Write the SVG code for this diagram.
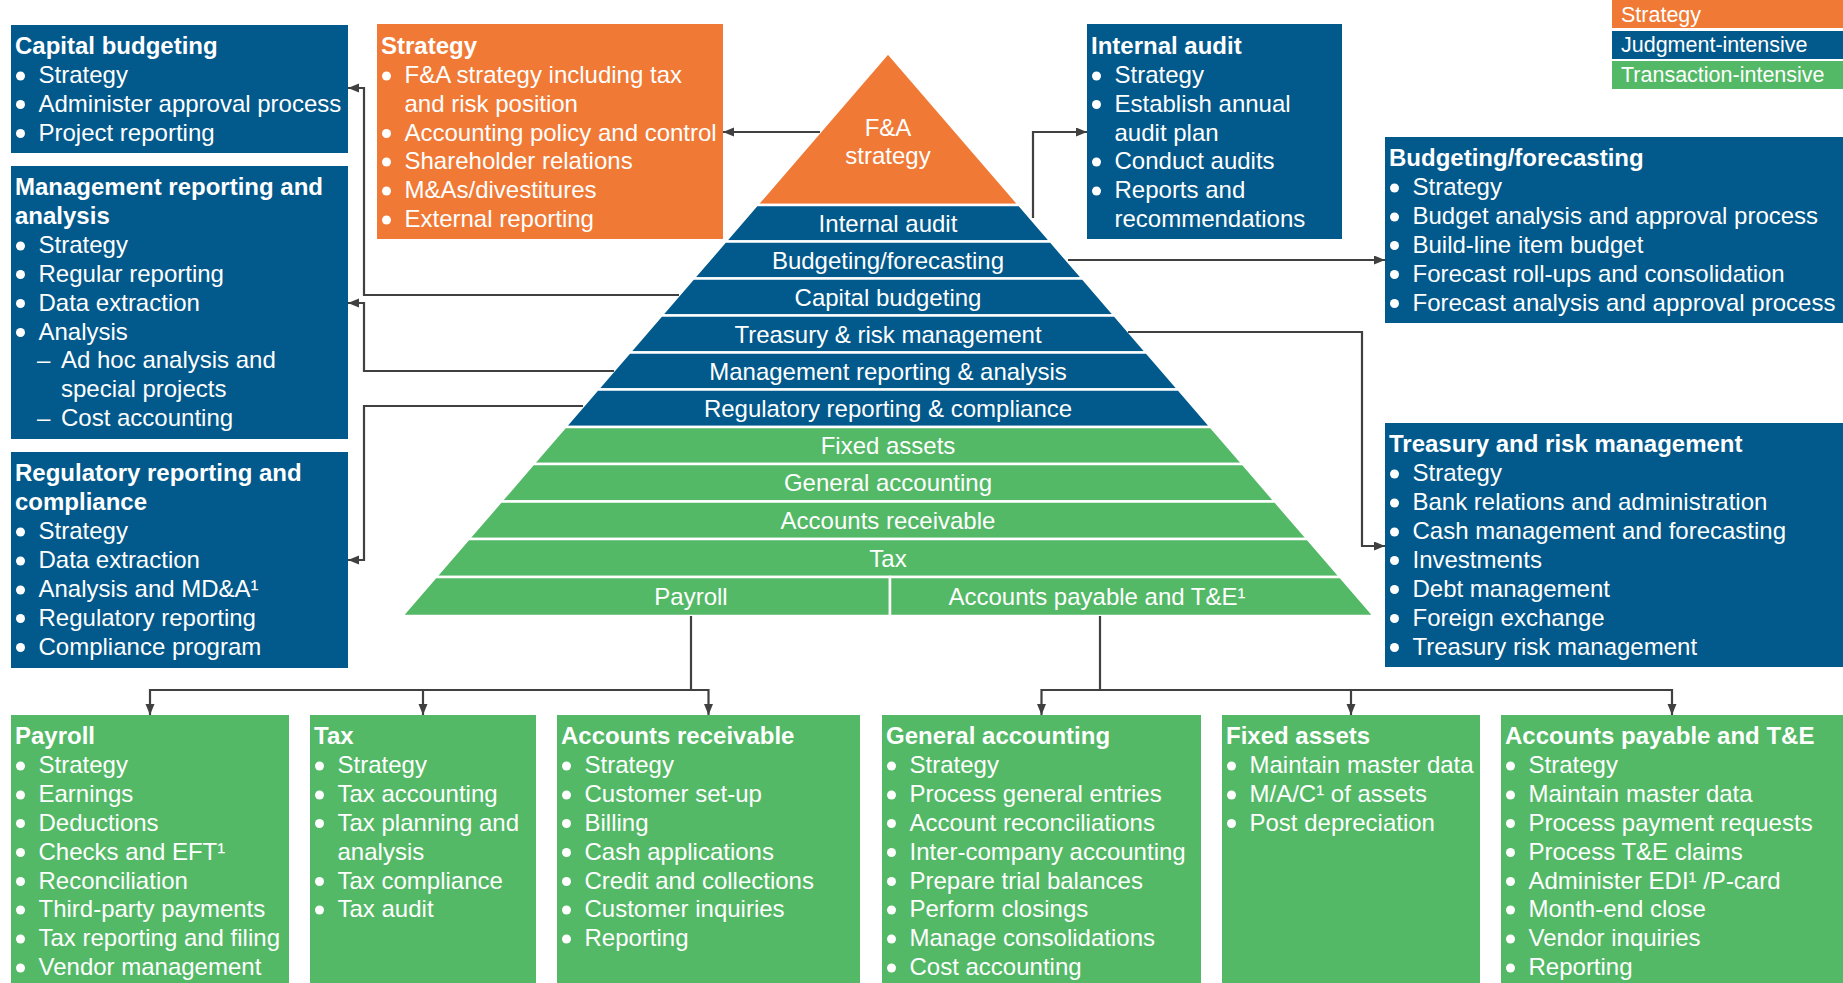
<svg xmlns="http://www.w3.org/2000/svg" width="1843" height="983" viewBox="0 0 1843 983">
<defs>
<marker id="arr" markerUnits="userSpaceOnUse" markerWidth="12" markerHeight="10" refX="11" refY="4.5" orient="auto">
<path d="M0,0 L11,4.5 L0,9 z" fill="#404040"/>
</marker>
</defs>
<style>
.t{font-family:"Liberation Sans",Arial,sans-serif;font-size:24px;fill:#fff}
.tb{font-family:"Liberation Sans",Arial,sans-serif;font-size:24px;font-weight:bold;fill:#fff}
.lg{font-family:"Liberation Sans",Arial,sans-serif;font-size:21.5px;fill:#fff}
.pc{text-anchor:middle}
.bl{fill:#fff}
.or{fill:#F07935}
.bu{fill:#02598B}
.gr{fill:#53B966}
.band{stroke:#fff;stroke-width:2.5}
.cn{fill:none;stroke:#404040;stroke-width:2.2}
.ar{marker-end:url(#arr)}
</style>
<rect width="1843" height="983" fill="#fff"/>

<g id="legend">
<rect class="or" x="1612" y="-2" width="231" height="30"/>
<rect class="bu" x="1612" y="31" width="231" height="28"/>
<rect class="gr" x="1612" y="61" width="231" height="28"/>
<text class="lg" x="1621" y="22">Strategy</text>
<text class="lg" x="1621" y="52">Judgment-intensive</text>
<text class="lg" x="1621" y="82">Transaction-intensive</text>
</g>

<g id="pyramid">
<polygon class="or band" points="888,53 1019.2,205 756.8,205"/>
<polygon class="bu band" points="756.8,205 1019.2,205 1050.7,241.5 725.3,241.5"/>
<polygon class="bu band" points="725.3,241.5 1050.7,241.5 1082.7,278.5 693.3,278.5"/>
<polygon class="bu band" points="693.3,278.5 1082.7,278.5 1114.6,315.5 661.4,315.5"/>
<polygon class="bu band" points="661.4,315.5 1114.6,315.5 1146.5,352.5 629.5,352.5"/>
<polygon class="bu band" points="629.5,352.5 1146.5,352.5 1178.5,389.5 597.5,389.5"/>
<polygon class="bu band" points="597.5,389.5 1178.5,389.5 1210.8,427 565.2,427"/>
<polygon class="gr band" points="565.2,427 1210.8,427 1242.8,464 533.2,464"/>
<polygon class="gr band" points="533.2,464 1242.8,464 1275.1,501.5 500.9,501.5"/>
<polygon class="gr band" points="500.9,501.5 1275.1,501.5 1307.5,539 468.5,539"/>
<polygon class="gr band" points="468.5,539 1307.5,539 1340.3,577 435.7,577"/>
<polygon class="gr band" points="435.7,577 890,577 890,616 402,616"/>
<polygon class="gr band" points="890,577 1340.3,577 1374,616 890,616"/>
<text class="t pc" x="888" y="136">F&amp;A</text>
<text class="t pc" x="888" y="164">strategy</text>
<text class="t pc" x="888" y="231.5">Internal audit</text>
<text class="t pc" x="888" y="268.5">Budgeting/forecasting</text>
<text class="t pc" x="888" y="305.5">Capital budgeting</text>
<text class="t pc" x="888" y="342.5">Treasury &amp; risk management</text>
<text class="t pc" x="888" y="379.5">Management reporting &amp; analysis</text>
<text class="t pc" x="888" y="416.5">Regulatory reporting &amp; compliance</text>
<text class="t pc" x="888" y="454">Fixed assets</text>
<text class="t pc" x="888" y="491">General accounting</text>
<text class="t pc" x="888" y="528.5">Accounts receivable</text>
<text class="t pc" x="888" y="566.5">Tax</text>
<text class="t pc" x="691" y="605">Payroll</text>
<text class="t pc" x="1097" y="605">Accounts payable and T&amp;E¹</text>
</g>

<g id="connectors">
<path class="cn ar" d="M820,132 H723"/>
<path class="cn ar" d="M679,295 H364 V88 H348"/>
<path class="cn ar" d="M614,371 H364 V303 H348"/>
<path class="cn ar" d="M583,406 H364 V560 H348"/>
<path class="cn ar" d="M1033,218 V132 H1087"/>
<path class="cn ar" d="M1068,260 H1385"/>
<path class="cn ar" d="M1128,332 H1362 V546 H1385"/>
<path class="cn ar" d="M691,616 V690 H150 V715"/>
<path class="cn ar" d="M691,690 H423 V715"/>
<path class="cn ar" d="M691,690 H708.5 V715"/>
<path class="cn ar" d="M1100,616 V690 H1041.5 V715"/>
<path class="cn ar" d="M1100,690 H1351 V715"/>
<path class="cn ar" d="M1100,690 H1672 V715"/>
</g>

<g id="capital-budgeting">
<rect class="bu" x="11" y="25" width="337" height="128"/>
<text class="tb" x="15" y="54">Capital budgeting</text>
<circle class="bl" cx="20.5" cy="76" r="4.5"/><text class="t" x="38.5" y="83">Strategy</text>
<circle class="bl" cx="20.5" cy="104.5" r="4.5"/><text class="t" x="38.5" y="111.5">Administer approval process</text>
<circle class="bl" cx="20.5" cy="133.5" r="4.5"/><text class="t" x="38.5" y="140.5">Project reporting</text>
</g>

<g id="strategy">
<rect class="or" x="377" y="24" width="346" height="215"/>
<text class="tb" x="381" y="54">Strategy</text>
<circle class="bl" cx="386.5" cy="76" r="4.5"/><text class="t" x="404.5" y="83">F&amp;A strategy including tax</text>
<text class="t" x="404.5" y="111.5">and risk position</text>
<circle class="bl" cx="386.5" cy="133.5" r="4.5"/><text class="t" x="404.5" y="140.5">Accounting policy and control</text>
<circle class="bl" cx="386.5" cy="162" r="4.5"/><text class="t" x="404.5" y="169">Shareholder relations</text>
<circle class="bl" cx="386.5" cy="191" r="4.5"/><text class="t" x="404.5" y="198">M&amp;As/divestitures</text>
<circle class="bl" cx="386.5" cy="220" r="4.5"/><text class="t" x="404.5" y="227">External reporting</text>
</g>

<g id="internal-audit">
<rect class="bu" x="1087" y="24" width="255" height="215"/>
<text class="tb" x="1091" y="54">Internal audit</text>
<circle class="bl" cx="1096.5" cy="76" r="4.5"/><text class="t" x="1114.5" y="83">Strategy</text>
<circle class="bl" cx="1096.5" cy="104.5" r="4.5"/><text class="t" x="1114.5" y="111.5">Establish annual</text>
<text class="t" x="1114.5" y="140.5">audit plan</text>
<circle class="bl" cx="1096.5" cy="162" r="4.5"/><text class="t" x="1114.5" y="169">Conduct audits</text>
<circle class="bl" cx="1096.5" cy="191" r="4.5"/><text class="t" x="1114.5" y="198">Reports and</text>
<text class="t" x="1114.5" y="227">recommendations</text>
</g>

<g id="management-reporting">
<rect class="bu" x="11" y="166" width="337" height="273"/>
<text class="tb" x="15" y="195">Management reporting and</text>
<text class="tb" x="15" y="224">analysis</text>
<circle class="bl" cx="20.5" cy="246" r="4.5"/><text class="t" x="38.5" y="253">Strategy</text>
<circle class="bl" cx="20.5" cy="274.5" r="4.5"/><text class="t" x="38.5" y="281.5">Regular reporting</text>
<circle class="bl" cx="20.5" cy="303.5" r="4.5"/><text class="t" x="38.5" y="310.5">Data extraction</text>
<circle class="bl" cx="20.5" cy="332.5" r="4.5"/><text class="t" x="38.5" y="339.5">Analysis</text>
<text class="t" x="37" y="368">–</text><text class="t" x="61" y="368">Ad hoc analysis and</text>
<text class="t" x="61" y="397">special projects</text>
<text class="t" x="37" y="426">–</text><text class="t" x="61" y="426">Cost accounting</text>
</g>

<g id="regulatory-reporting">
<rect class="bu" x="11" y="452" width="337" height="216"/>
<text class="tb" x="15" y="481">Regulatory reporting and</text>
<text class="tb" x="15" y="510">compliance</text>
<circle class="bl" cx="20.5" cy="532" r="4.5"/><text class="t" x="38.5" y="539">Strategy</text>
<circle class="bl" cx="20.5" cy="561" r="4.5"/><text class="t" x="38.5" y="568">Data extraction</text>
<circle class="bl" cx="20.5" cy="590" r="4.5"/><text class="t" x="38.5" y="597">Analysis and MD&amp;A¹</text>
<circle class="bl" cx="20.5" cy="618.5" r="4.5"/><text class="t" x="38.5" y="625.5">Regulatory reporting</text>
<circle class="bl" cx="20.5" cy="647.5" r="4.5"/><text class="t" x="38.5" y="654.5">Compliance program</text>
</g>

<g id="budgeting-forecasting">
<rect class="bu" x="1385" y="137" width="458" height="186"/>
<text class="tb" x="1389" y="166">Budgeting/forecasting</text>
<circle class="bl" cx="1394.5" cy="188" r="4.5"/><text class="t" x="1412.5" y="195">Strategy</text>
<circle class="bl" cx="1394.5" cy="217" r="4.5"/><text class="t" x="1412.5" y="224">Budget analysis and approval process</text>
<circle class="bl" cx="1394.5" cy="245.5" r="4.5"/><text class="t" x="1412.5" y="252.5">Build-line item budget</text>
<circle class="bl" cx="1394.5" cy="274.5" r="4.5"/><text class="t" x="1412.5" y="281.5">Forecast roll-ups and consolidation</text>
<circle class="bl" cx="1394.5" cy="303.5" r="4.5"/><text class="t" x="1412.5" y="310.5">Forecast analysis and approval process</text>
</g>

<g id="treasury-risk">
<rect class="bu" x="1385" y="423" width="458" height="244"/>
<text class="tb" x="1389" y="452">Treasury and risk management</text>
<circle class="bl" cx="1394.5" cy="474" r="4.5"/><text class="t" x="1412.5" y="481">Strategy</text>
<circle class="bl" cx="1394.5" cy="503" r="4.5"/><text class="t" x="1412.5" y="510">Bank relations and administration</text>
<circle class="bl" cx="1394.5" cy="532" r="4.5"/><text class="t" x="1412.5" y="539">Cash management and forecasting</text>
<circle class="bl" cx="1394.5" cy="560.5" r="4.5"/><text class="t" x="1412.5" y="567.5">Investments</text>
<circle class="bl" cx="1394.5" cy="589.5" r="4.5"/><text class="t" x="1412.5" y="596.5">Debt management</text>
<circle class="bl" cx="1394.5" cy="618.5" r="4.5"/><text class="t" x="1412.5" y="625.5">Foreign exchange</text>
<circle class="bl" cx="1394.5" cy="647.5" r="4.5"/><text class="t" x="1412.5" y="654.5">Treasury risk management</text>
</g>

<g id="payroll">
<rect class="gr" x="11" y="715" width="278" height="268"/>
<text class="tb" x="15" y="744">Payroll</text>
<circle class="bl" cx="20.5" cy="766" r="4.5"/><text class="t" x="38.5" y="773">Strategy</text>
<circle class="bl" cx="20.5" cy="795" r="4.5"/><text class="t" x="38.5" y="802">Earnings</text>
<circle class="bl" cx="20.5" cy="823.5" r="4.5"/><text class="t" x="38.5" y="830.5">Deductions</text>
<circle class="bl" cx="20.5" cy="852.5" r="4.5"/><text class="t" x="38.5" y="859.5">Checks and EFT¹</text>
<circle class="bl" cx="20.5" cy="881.5" r="4.5"/><text class="t" x="38.5" y="888.5">Reconciliation</text>
<circle class="bl" cx="20.5" cy="910" r="4.5"/><text class="t" x="38.5" y="917">Third-party payments</text>
<circle class="bl" cx="20.5" cy="939" r="4.5"/><text class="t" x="38.5" y="946">Tax reporting and filing</text>
<circle class="bl" cx="20.5" cy="968" r="4.5"/><text class="t" x="38.5" y="975">Vendor management</text>
</g>

<g id="tax">
<rect class="gr" x="310" y="715" width="226" height="268"/>
<text class="tb" x="314" y="744">Tax</text>
<circle class="bl" cx="319.5" cy="766" r="4.5"/><text class="t" x="337.5" y="773">Strategy</text>
<circle class="bl" cx="319.5" cy="795" r="4.5"/><text class="t" x="337.5" y="802">Tax accounting</text>
<circle class="bl" cx="319.5" cy="823.5" r="4.5"/><text class="t" x="337.5" y="830.5">Tax planning and</text>
<text class="t" x="337.5" y="859.5">analysis</text>
<circle class="bl" cx="319.5" cy="881.5" r="4.5"/><text class="t" x="337.5" y="888.5">Tax compliance</text>
<circle class="bl" cx="319.5" cy="910" r="4.5"/><text class="t" x="337.5" y="917">Tax audit</text>
</g>

<g id="accounts-receivable">
<rect class="gr" x="557" y="715" width="303" height="268"/>
<text class="tb" x="561" y="744">Accounts receivable</text>
<circle class="bl" cx="566.5" cy="766" r="4.5"/><text class="t" x="584.5" y="773">Strategy</text>
<circle class="bl" cx="566.5" cy="795" r="4.5"/><text class="t" x="584.5" y="802">Customer set-up</text>
<circle class="bl" cx="566.5" cy="823.5" r="4.5"/><text class="t" x="584.5" y="830.5">Billing</text>
<circle class="bl" cx="566.5" cy="852.5" r="4.5"/><text class="t" x="584.5" y="859.5">Cash applications</text>
<circle class="bl" cx="566.5" cy="881.5" r="4.5"/><text class="t" x="584.5" y="888.5">Credit and collections</text>
<circle class="bl" cx="566.5" cy="910" r="4.5"/><text class="t" x="584.5" y="917">Customer inquiries</text>
<circle class="bl" cx="566.5" cy="939" r="4.5"/><text class="t" x="584.5" y="946">Reporting</text>
</g>

<g id="general-accounting">
<rect class="gr" x="882" y="715" width="319" height="268"/>
<text class="tb" x="886" y="744">General accounting</text>
<circle class="bl" cx="891.5" cy="766" r="4.5"/><text class="t" x="909.5" y="773">Strategy</text>
<circle class="bl" cx="891.5" cy="795" r="4.5"/><text class="t" x="909.5" y="802">Process general entries</text>
<circle class="bl" cx="891.5" cy="823.5" r="4.5"/><text class="t" x="909.5" y="830.5">Account reconciliations</text>
<circle class="bl" cx="891.5" cy="852.5" r="4.5"/><text class="t" x="909.5" y="859.5">Inter-company accounting</text>
<circle class="bl" cx="891.5" cy="881.5" r="4.5"/><text class="t" x="909.5" y="888.5">Prepare trial balances</text>
<circle class="bl" cx="891.5" cy="910" r="4.5"/><text class="t" x="909.5" y="917">Perform closings</text>
<circle class="bl" cx="891.5" cy="939" r="4.5"/><text class="t" x="909.5" y="946">Manage consolidations</text>
<circle class="bl" cx="891.5" cy="968" r="4.5"/><text class="t" x="909.5" y="975">Cost accounting</text>
</g>

<g id="fixed-assets">
<rect class="gr" x="1222" y="715" width="258" height="268"/>
<text class="tb" x="1226" y="744">Fixed assets</text>
<circle class="bl" cx="1231.5" cy="766" r="4.5"/><text class="t" x="1249.5" y="773">Maintain master data</text>
<circle class="bl" cx="1231.5" cy="795" r="4.5"/><text class="t" x="1249.5" y="802">M/A/C¹ of assets</text>
<circle class="bl" cx="1231.5" cy="823.5" r="4.5"/><text class="t" x="1249.5" y="830.5">Post depreciation</text>
</g>

<g id="accounts-payable">
<rect class="gr" x="1501" y="715" width="342" height="268"/>
<text class="tb" x="1505" y="744">Accounts payable and T&amp;E</text>
<circle class="bl" cx="1510.5" cy="766" r="4.5"/><text class="t" x="1528.5" y="773">Strategy</text>
<circle class="bl" cx="1510.5" cy="795" r="4.5"/><text class="t" x="1528.5" y="802">Maintain master data</text>
<circle class="bl" cx="1510.5" cy="823.5" r="4.5"/><text class="t" x="1528.5" y="830.5">Process payment requests</text>
<circle class="bl" cx="1510.5" cy="852.5" r="4.5"/><text class="t" x="1528.5" y="859.5">Process T&amp;E claims</text>
<circle class="bl" cx="1510.5" cy="881.5" r="4.5"/><text class="t" x="1528.5" y="888.5">Administer EDI¹ /P-card</text>
<circle class="bl" cx="1510.5" cy="910" r="4.5"/><text class="t" x="1528.5" y="917">Month-end close</text>
<circle class="bl" cx="1510.5" cy="939" r="4.5"/><text class="t" x="1528.5" y="946">Vendor inquiries</text>
<circle class="bl" cx="1510.5" cy="968" r="4.5"/><text class="t" x="1528.5" y="975">Reporting</text>
</g>
</svg>
